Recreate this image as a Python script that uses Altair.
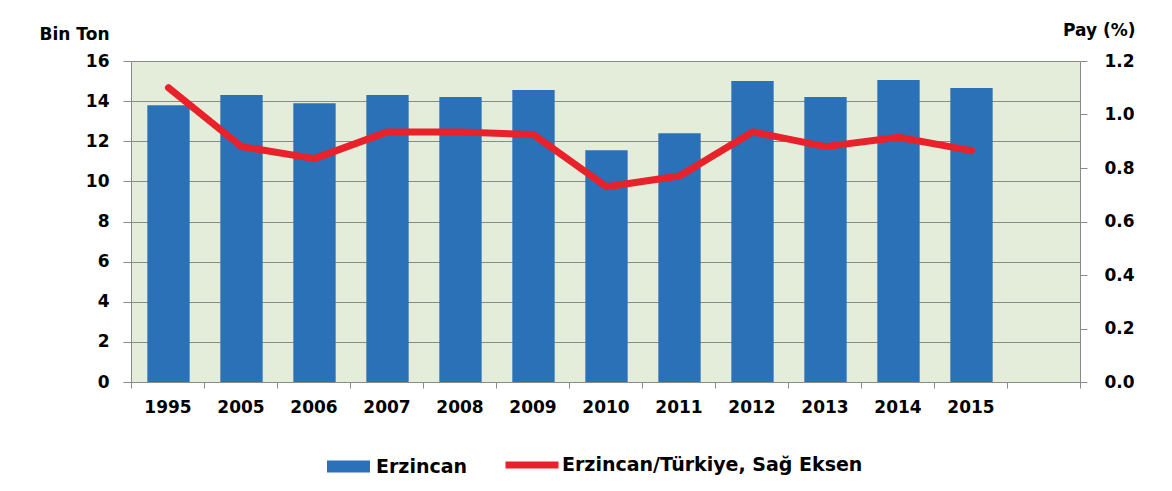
import altair as alt
import pandas as pd

years = ["1995", "2005", "2006", "2007", "2008", "2009", "2010", "2011", "2012", "2013", "2014", "2015"]
production = [13.8, 14.3, 13.9, 14.3, 14.2, 14.55, 11.55, 12.4, 15.0, 14.2, 15.05, 14.65]
share = [1.10, 0.88, 0.835, 0.935, 0.935, 0.925, 0.73, 0.77, 0.935, 0.88, 0.915, 0.865]
x_domain = years + ["_"]
bar_name = "Erzincan"
line_name = "Erzincan/Türkiye, Sağ Eksen"
left_ticks = [0, 2, 4, 6, 8, 10, 12, 14, 16]
right_ticks = [0.0, 0.2, 0.4, 0.6, 0.8, 1.0, 1.2]

df = pd.DataFrame({
    "year": years,
    "production": production,
    "share": share,
    "s1": [bar_name] * len(years),
    "s2": [line_name] * len(years),
})

FONT = "DejaVu Sans"
GRAY = "#8a8a8a"
BLUE = "#2a71b8"
RED = "#e8212b"

x_enc = alt.X(
    "year:N",
    sort=x_domain,
    scale=alt.Scale(domain=x_domain, paddingInner=0, paddingOuter=0),
    axis=alt.Axis(
        title=None,
        labelAngle=0,
        tickBand="extent",
        ticks=True,
        tickSize=6,
        tickColor=GRAY,
        domainColor=GRAY,
        labelPadding=11,
        labelFontSize=17,
        labelExpr="datum.value == '_' ? '' : datum.value",
        grid=False,
    ),
)

bars = alt.Chart(df).mark_bar(width=alt.RelativeBandSize(0.58), xOffset=1).encode(
    x=x_enc,
    y=alt.Y(
        "production:Q",
        scale=alt.Scale(domain=[0, 16], nice=False),
        axis=alt.Axis(
            values=left_ticks,
            title="Bin Ton",
            titleAngle=0,
            titleAlign="right",
            titleBaseline="alphabetic",
            titleX=-22,
            titleY=-22,
            titleFontSize=17,
            grid=True,
            gridColor=GRAY,
            gridWidth=1,
            tickSize=8,
            tickColor=GRAY,
            domainColor=GRAY,
            labelPadding=14,
            labelFontSize=17,
        ),
    ),
    fill=alt.Fill(
        "s1:N",
        scale=alt.Scale(domain=[bar_name], range=[BLUE]),
        legend=alt.Legend(
            title=None,
            orient="none",
            legendX=196,
            legendY=384,
            symbolType="M-1,-0.28H1V0.28H-1Z",
            symbolSize=1849,
            symbolStrokeWidth=0,
            labelOffset=6,
            labelFontSize=19,
            labelFont=FONT,
            labelFontWeight="bold",
            labelColor="#000000",
            labelLimit=500,
            padding=0,
        ),
    ),
)

line = alt.Chart(df).mark_line(strokeWidth=7, strokeCap="round", strokeJoin="round", xOffset=1).encode(
    x=x_enc,
    y=alt.Y(
        "share:Q",
        scale=alt.Scale(domain=[0, 1.2], nice=False),
        axis=alt.Axis(
            orient="right",
            values=right_ticks,
            format=".1f",
            title="Pay (%)",
            titleAngle=0,
            titleAlign="right",
            titleBaseline="alphabetic",
            titleX=55,
            titleY=-26,
            titleFontSize=17,
            grid=False,
            tickSize=7,
            tickColor=GRAY,
            domainColor=GRAY,
            labelPadding=17,
            labelFontSize=17,
        ),
    ),
    stroke=alt.Stroke(
        "s2:N",
        scale=alt.Scale(domain=[line_name], range=[RED]),
        legend=alt.Legend(
            title=None,
            orient="none",
            legendX=371,
            legendY=374,
            symbolType="stroke",
            symbolSize=2809,
            symbolStrokeWidth=7,
            labelOffset=0,
            labelFontSize=19,
            labelFont=FONT,
            labelFontWeight="bold",
            labelColor="#000000",
            labelLimit=500,
            padding=0,
        ),
    ),
)

chart = (
    alt.layer(bars, line)
    .resolve_scale(y="independent")
    .properties(
        width=949,
        height=321,
        autosize=alt.AutoSizeParams(type="none"),
        padding={"left": 123, "top": 53, "right": 84, "bottom": 100},
        background="white",
    )
    .configure_view(fill="#e3edd9", stroke="transparent")
    .configure_axis(
        labelFont=FONT,
        titleFont=FONT,
        labelFontWeight="bold",
        titleFontWeight="bold",
        labelColor="#000000",
        titleColor="#000000",
        domainWidth=1,
    )
)

chart.save("out.html", embed_options={"renderer": "svg", "actions": False})
